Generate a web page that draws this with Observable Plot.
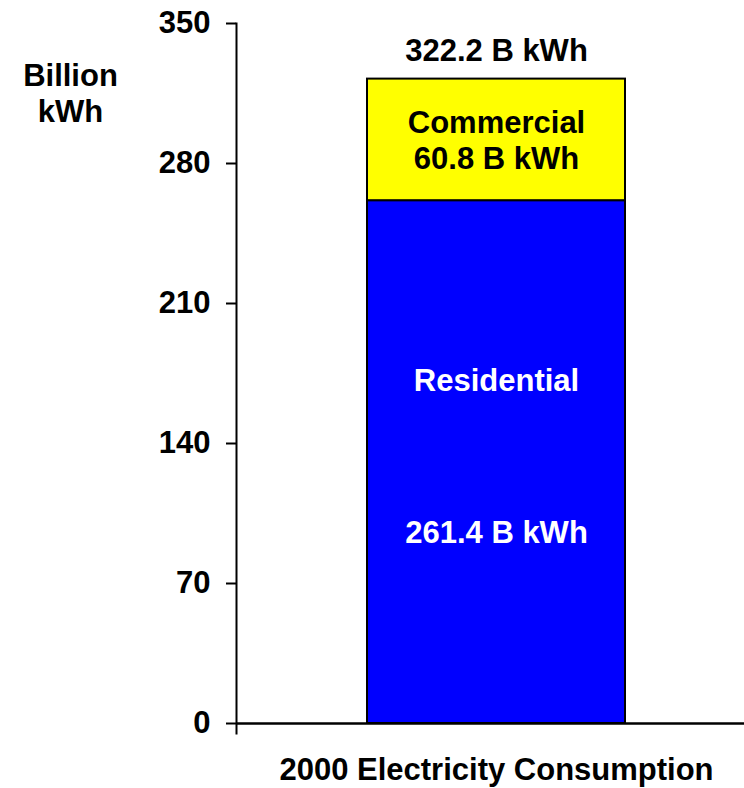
<!DOCTYPE html>
<html>
<head>
<meta charset="utf-8">
<script src="https://cdn.jsdelivr.net/npm/d3@7"></script>
<script src="https://cdn.jsdelivr.net/npm/@observablehq/plot@0.6"></script>
<style>
  html, body { margin: 0; padding: 0; background: #fff; }
  #chart svg { display: block; }
</style>
</head>
<body>
<div id="chart"></div>
<script>
const category = "2000 Electricity Consumption";
const sectors = ["Residential", "Commercial"];
const values = [261.4, 60.8];
const colors = ["#0000FF", "#FFFF00"];
const textColors = ["#FFFFFF", "#000000"];
const valueLabels = ["261.4 B kWh", "60.8 B kWh"];
const totalLabel = "322.2 B kWh";
const totals = [322.2];
const yTicks = [0, 70, 140, 210, 280, 350];
const yLabel = "Billion\nkWh";

const data = sectors.map((s, i) => ({cat: category, sector: s, value: values[i], label: valueLabels[i], tc: textColors[i]}));
const font = "'Liberation Sans', Arial, Helvetica, sans-serif";
const FS = 31;

// text for one sector only, stacked over the full data so positions stay correct
const only = (name, key) => d => d.sector === name ? d[key] : null;

const chart = Plot.plot({
  width: 744,
  height: 788,
  marginTop: 23,
  marginBottom: 55,
  marginLeft: 236,
  marginRight: 0,
  style: {fontFamily: font, fontWeight: "bold", background: "#fff", overflow: "visible"},
  x: {type: "band", domain: [category], paddingInner: 0, paddingOuter: 0.4807, align: 0.522, axis: null},
  y: {domain: [0, 350], range: [723, 23]},
  color: {domain: sectors, range: colors},
  marks: [
    Plot.barY(data, {x: "cat", y: "value", fill: "sector", stroke: "#000", strokeWidth: 2}),
    Plot.ruleY([0], {stroke: "#000", strokeWidth: 2.5}),
    Plot.frame({anchor: "left", stroke: "#000", strokeWidth: 2}),
    Plot.axisY({ticks: yTicks, tickSize: 10, tickPadding: 16, fontSize: FS, strokeWidth: 2, label: null, tickFormat: d => String(d), fill: "#000"}),
    Plot.text(data, Plot.stackY({x: "cat", y: "value", text: only("Commercial", "sector"), fill: "#000", fontSize: FS, dy: -17})),
    Plot.text(data, Plot.stackY({x: "cat", y: "value", text: only("Commercial", "label"), fill: "#000", fontSize: FS, dy: 19})),
    Plot.text(data, Plot.stackY({x: "cat", y: "value", text: only("Residential", "sector"), fill: "#fff", fontSize: FS, dy: -81})),
    Plot.text(data, Plot.stackY({x: "cat", y: "value", text: only("Residential", "label"), fill: "#fff", fontSize: FS, dy: 71})),
    Plot.text(totals, {x: () => category, y: d => d, text: () => totalLabel, fill: "#000", fontSize: FS, dy: -28}),
    Plot.text([category], {x: d => d, frameAnchor: "bottom", text: d => d, fill: "#000", fontSize: FS, dy: 37, lineAnchor: "middle"}),
    Plot.text([yLabel], {frameAnchor: "top-left", text: d => d, fill: "#000", fontSize: FS, dx: -166, dy: 69, textAnchor: "middle", lineAnchor: "middle", lineHeight: 1.16})
  ]
});
document.getElementById("chart").append(chart);
</script>
</body>
</html>
